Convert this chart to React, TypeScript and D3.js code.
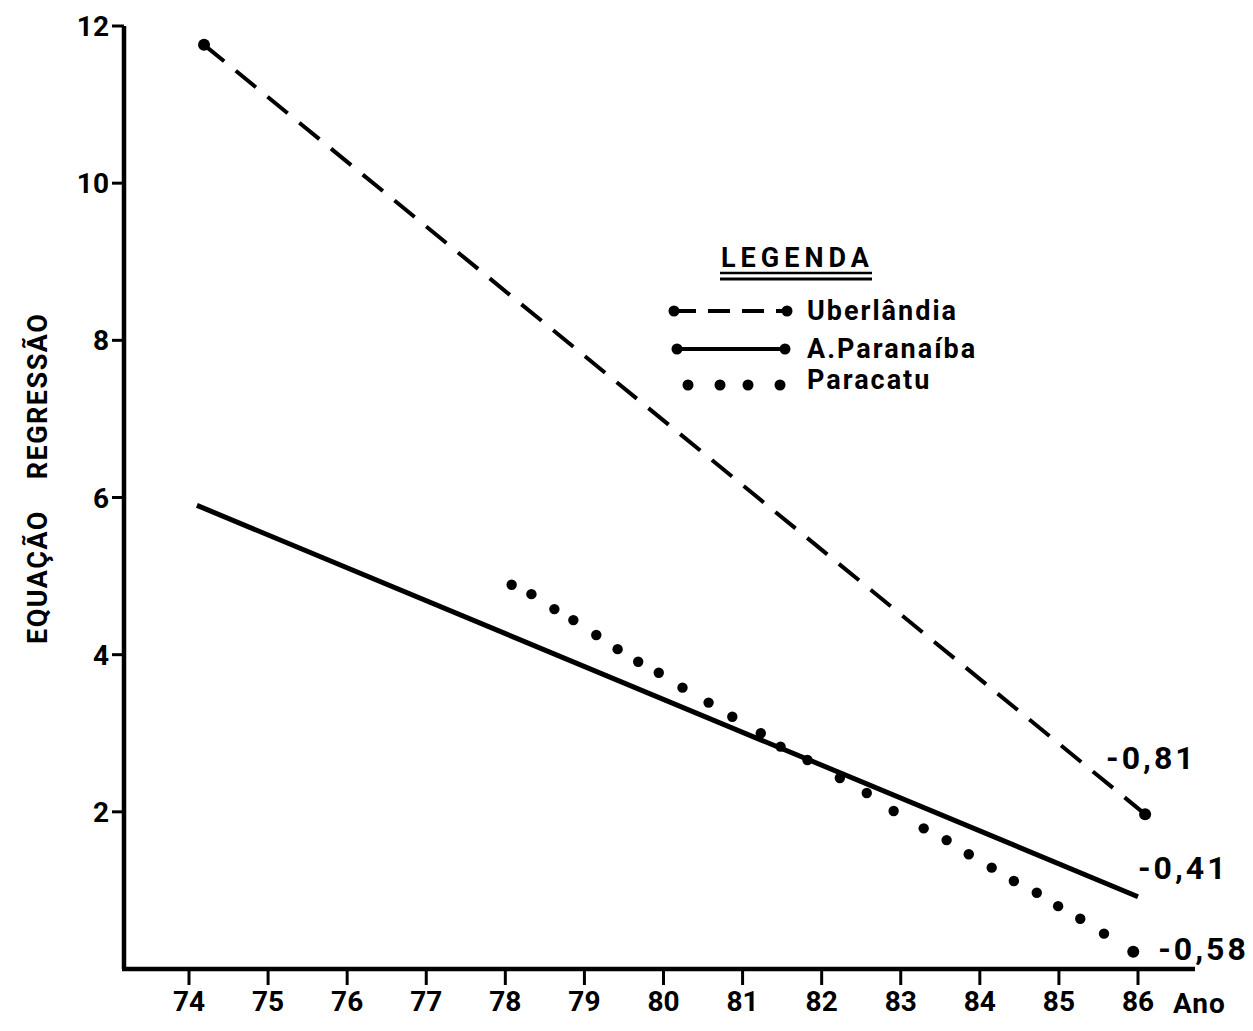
import React from 'react';
import * as d3 from 'd3';

// tick values on both axes
const years = [74, 75, 76, 77, 78, 79, 80, 81, 82, 83, 84, 85, 86];
const yTicks = [2, 4, 6, 8, 10, 12];

// regression lines (start / end)
const uberlandiaX = [74.19, 86.09];
const uberlandiaY = [11.76, 1.97];
const paranaibaX = [74.1, 86.0];
const paranaibaY = [5.9, 0.92];

// Paracatu drawn as a row of dots
const paracatuX = [
  78.08, 78.33, 78.62, 78.86, 79.15, 79.42, 79.68, 79.94, 80.24, 80.57, 80.87, 81.23, 81.48, 81.82,
  82.23, 82.57, 82.91, 83.29, 83.58, 83.86, 84.15, 84.43, 84.72, 84.99, 85.27, 85.57, 85.94
];
const paracatuY = [
  4.89, 4.77, 4.58, 4.44, 4.25, 4.07, 3.91, 3.77, 3.58, 3.39, 3.21, 3.0, 2.83, 2.66,
  2.43, 2.24, 2.01, 1.79, 1.64, 1.46, 1.29, 1.12, 0.97, 0.8, 0.64, 0.45, 0.22
];

const seriesNames = ['Uberlândia', 'A.Paranaíba', 'Paracatu'];
const coefLabels = ['-0,81', '-0,41', '-0,58'];

const FONT = 'Roboto, "DejaVu Sans", sans-serif';

export default function App() {
  const width = 1253;
  const height = 1031;

  // scales
  const x = d3.scaleLinear().domain([74, 86]).range([189, 1138]);
  const y = d3.scaleLinear().domain([0, 12]).range([969, 26]);

  const line = d3.line<[number, number]>()
    .x(d => x(d[0]))
    .y(d => y(d[1]));

  const ub: [number, number][] = uberlandiaX.map((v, i) => [v, uberlandiaY[i]]);
  const pa: [number, number][] = paranaibaX.map((v, i) => [v, paranaibaY[i]]);
  const pc: [number, number][] = paracatuX.map((v, i) => [v, paracatuY[i]]);

  const ubEnd = ub[ub.length - 1];
  const paEnd = pa[pa.length - 1];
  const pcEnd = pc[pc.length - 1];

  const axisY = y(0);
  const axisX = 124;

  return (
    <svg
      width={width}
      height={height}
      style={{ position: 'absolute', left: 0, top: 0, background: '#fff' }}
      fontFamily={FONT}
      fontWeight="bold"
    >
      {/* y axis */}
      <line x1={axisX} y1={y(12)} x2={axisX} y2={axisY} stroke="#000" strokeWidth={4.5} />
      {yTicks.map(t => (
        <g key={t}>
          <line x1={axisX - 12} x2={axisX} y1={y(t)} y2={y(t)} stroke="#000" strokeWidth={3} />
          <text x={axisX - 15} y={y(t)} dy="0.36em" textAnchor="end" fontSize={28}>
            {t}
          </text>
        </g>
      ))}

      {/* y axis title */}
      <text transform={`translate(47, ${577}) rotate(-90)`} textAnchor="middle" fontSize={27} letterSpacing={1.5}>
        EQUAÇÃO
      </text>
      <text transform={`translate(47, ${396}) rotate(-90)`} textAnchor="middle" fontSize={27} letterSpacing={1.5}>
        REGRESSÃO
      </text>

      {/* x axis */}
      <line x1={axisX - 2} y1={axisY} x2={1195} y2={axisY} stroke="#000" strokeWidth={4.5} />
      {years.map(t => (
        <g key={t}>
          <line x1={x(t)} x2={x(t)} y1={axisY} y2={axisY + 16} stroke="#000" strokeWidth={3} />
          <text x={x(t)} y={1011} textAnchor="middle" fontSize={28}>
            {t}
          </text>
        </g>
      ))}
      <text x={1173} y={1013} fontSize={28} letterSpacing={1}>Ano</text>

      {/* Uberlândia - dashed */}
      <path d={line(ub) || ''} fill="none" stroke="#000" strokeWidth={4} strokeDasharray="26 15" />
      {ub.map((d, i) => (
        <circle key={i} cx={x(d[0])} cy={y(d[1])} r={6} fill="#000" />
      ))}

      {/* A. Paranaíba - solid */}
      <path d={line(pa) || ''} fill="none" stroke="#000" strokeWidth={5} />

      {/* Paracatu - dots */}
      {pc.map((d, i) => (
        <circle key={i} cx={x(d[0])} cy={y(d[1])} r={i === pc.length - 1 ? 6 : 5.2} fill="#000" />
      ))}

      {/* coefficient labels */}
      <text x={x(ubEnd[0]) - 39} y={y(ubEnd[1]) - 57} dy="0.36em" fontSize={32} letterSpacing={3}>
        {coefLabels[0]}
      </text>
      <text x={x(paEnd[0])} y={y(paEnd[1]) - 29} dy="0.36em" fontSize={32} letterSpacing={3}>
        {coefLabels[1]}
      </text>
      <text x={x(pcEnd[0]) + 25} y={y(pcEnd[1]) - 3} dy="0.36em" fontSize={32} letterSpacing={3}>
        {coefLabels[2]}
      </text>

      {/* legend */}
      <g>
        <text x={721} y={267} fontSize={27} letterSpacing={5}>LEGENDA</text>
        <line x1={720} x2={872} y1={273} y2={273} stroke="#000" strokeWidth={2.5} />
        <line x1={720} x2={872} y1={279} y2={279} stroke="#000" strokeWidth={3} />

        <line x1={674} x2={787} y1={311} y2={311} stroke="#000" strokeWidth={4} strokeDasharray="22 12" />
        <circle cx={674} cy={311} r={5.5} fill="#000" />
        <circle cx={787} cy={311} r={5.5} fill="#000" />
        <text x={807} y={320} fontSize={27} letterSpacing={2}>{seriesNames[0]}</text>

        <line x1={677} x2={785} y1={349} y2={349} stroke="#000" strokeWidth={4} />
        <circle cx={677} cy={349} r={5.5} fill="#000" />
        <circle cx={785} cy={349} r={5.5} fill="#000" />
        <text x={807} y={358} fontSize={27} letterSpacing={2}>{seriesNames[1]}</text>

        {[688, 720, 748, 780].map(cx => (
          <circle key={cx} cx={cx} cy={385} r={5.5} fill="#000" />
        ))}
        <text x={807} y={389} fontSize={27} letterSpacing={2}>{seriesNames[2]}</text>
      </g>
    </svg>
  );
}
